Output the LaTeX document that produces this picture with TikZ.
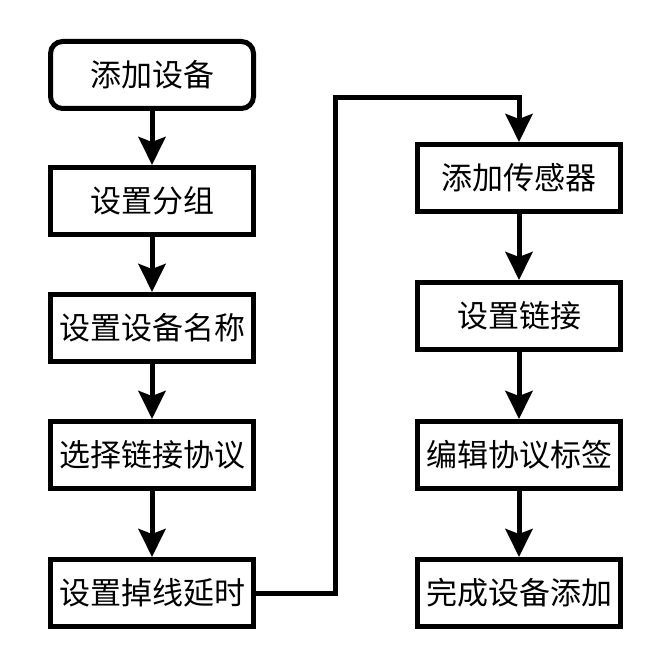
\documentclass[tikz,border=0pt]{standalone}
\usepackage{fontspec}
\newfontfamily\cjk{Noto Sans CJK SC}
\usetikzlibrary{arrows.meta}
\begin{document}
\begin{tikzpicture}[x=1pt,y=-1pt,
  box/.style={draw, line width=5pt, minimum width=203pt, minimum height=67pt,
    inner sep=0pt, fill=white, font=\cjk\fontsize{31}{36}\selectfont},
  startbox/.style={box, rounded corners=12pt},
  flow/.style={line width=5pt, -{Stealth[length=28pt,width=27pt,inset=5pt]}}]
\useasboundingbox[fill=white] (0,0) rectangle (661,668);
% left column
\node[startbox] (a1) at (152,75)  {添加设备};
\node[box] (a2) at (152,201) {设置分组};
\node[box] (a3) at (152,328) {设置设备名称};
\node[box] (a4) at (152,455) {选择链接协议};
\node[box] (a5) at (152,593) {设置掉线延时};
% right column
\node[box] (b1) at (519,178) {添加传感器};
\node[box] (b2) at (519,316) {设置链接};
\node[box] (b3) at (519,455) {编辑协议标签};
\node[box] (b4) at (519,593) {完成设备添加};
% connectors
\draw[flow] (a1) -- (a2);
\draw[flow] (a2) -- (a3);
\draw[flow] (a3) -- (a4);
\draw[flow] (a4) -- (a5);
\draw[flow] (b1) -- (b2);
\draw[flow] (b2) -- (b3);
\draw[flow] (b3) -- (b4);
\coordinate (turnA) at (335,98);
\coordinate (turnB) at (519,98);
\draw[flow] (a5.east) -| (turnA) -- (turnB) -- (b1.north);
\end{tikzpicture}
\end{document}
